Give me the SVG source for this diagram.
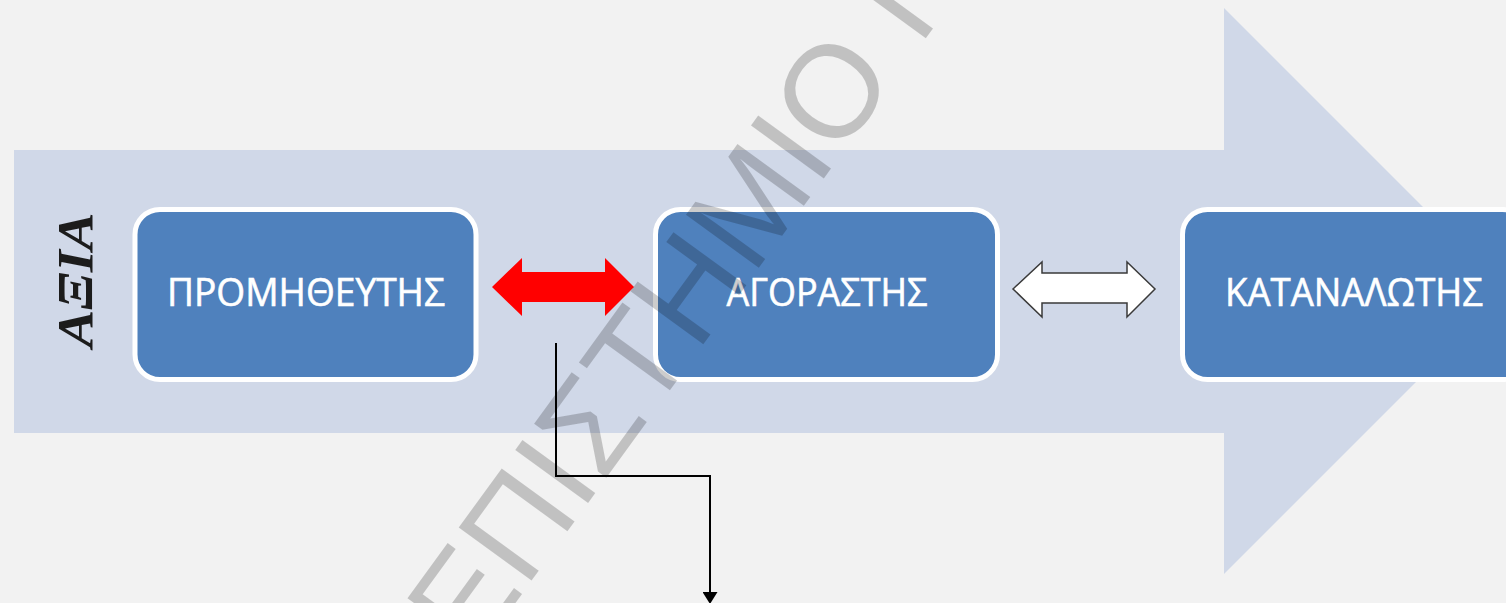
<svg xmlns="http://www.w3.org/2000/svg" width="1506" height="603" viewBox="0 0 1506 603">
  <style>
    .box { fill: #4f81bd; stroke: #ffffff; stroke-width: 5; }
    .label { font-family: "Open Sans", "Noto Sans", "Liberation Sans", sans-serif; font-size: 38px; fill: #ffffff; stroke: #ffffff; stroke-width: 0.6; text-anchor: middle; }
    .axis { font-family: "Liberation Serif", "DejaVu Serif", serif; font-size: 50px; font-weight: bold; font-style: italic; fill: #1c1c1c; text-anchor: middle; }
    .link { fill: none; stroke: #000000; stroke-width: 2; }
    .mark { font-family: "Liberation Sans", Arial, sans-serif; font-size: 131px; fill: #000000; fill-opacity: 0.2; }
  </style>
  <defs>
    <marker id="arrowDown" viewBox="0 0 12 15" refX="0" refY="7.5" markerWidth="12" markerHeight="15" markerUnits="userSpaceOnUse" orient="auto">
      <path d="M0,0 L12,7.5 L0,15 Z" fill="#000000"/>
    </marker>
  </defs>

  <!-- page background -->
  <rect x="0" y="0" width="1506" height="603" fill="#f2f2f2"/>

  <!-- wide value-chain arrow behind the nodes -->
  <polygon points="14,150 1224,150 1224,8 1507,291 1224,574 1224,433 14,433" fill="#d0d8e8"/>

  <!-- vertical caption -->
  <text class="axis" transform="translate(92,280) rotate(-90)" x="0" y="0" textLength="135" lengthAdjust="spacingAndGlyphs">ΑΞΙΑ</text>

  <!-- nodes -->
  <g id="node-promitheftis">
    <rect class="box" x="135" y="209.5" width="341" height="170" rx="25" ry="25"/>
    <text class="label" x="306" y="306" textLength="278" lengthAdjust="spacingAndGlyphs">ΠΡΟΜΗΘΕΥΤΗΣ</text>
  </g>
  <g id="node-agorastis">
    <rect class="box" x="655.5" y="209.5" width="342" height="170" rx="25" ry="25"/>
    <text class="label" x="827" y="306" textLength="201" lengthAdjust="spacingAndGlyphs">ΑΓΟΡΑΣΤΗΣ</text>
  </g>
  <g id="node-katanalotis">
    <rect class="box" x="1182.5" y="209.5" width="345" height="170" rx="25" ry="25"/>
    <text class="label" x="1354" y="306" textLength="258" lengthAdjust="spacingAndGlyphs">ΚΑΤΑΝΑΛΩΤΗΣ</text>
  </g>

  <!-- connectors -->
  <g id="connectors">
    <polygon id="link-supplier-buyer" points="492,287 522,258 522,272 605,272 605,258 634,287 605,316 605,302 522,302 522,316" fill="#ff0000"/>
    <polygon id="link-buyer-consumer" points="1013,289 1042,262 1042,273 1127,273 1127,262 1155,289 1127,317 1127,303 1042,303 1042,317" fill="#ffffff" stroke="#3a3a3a" stroke-width="1.5" stroke-linejoin="miter"/>
    <path id="link-down" class="link" d="M556,343 V476 H710 V592" marker-end="url(#arrowDown)"/>
  </g>

  <!-- diagonal watermark -->
  <g id="watermark">
    <text class="mark" transform="translate(474,660) rotate(-54)" x="0" y="0">ΕΠΙΣΤΗΜΙΟ Π</text>
  </g>
</svg>
